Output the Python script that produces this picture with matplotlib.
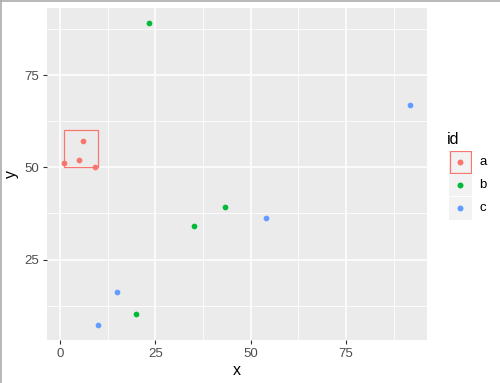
import matplotlib
matplotlib.use("Agg")
import matplotlib.pyplot as plt
from matplotlib.patches import Rectangle
from matplotlib.lines import Line2D

plt.rcParams["font.family"] = ["Liberation Sans", "DejaVu Sans"]

# ---- data ----
ids = ["a", "b", "c"]
colors = ["#F8766D", "#00BA38", "#619CFF"]
x_a = [1, 5, 6, 9.2]
y_a = [51.3, 52.1, 57.2, 50.2]
x_b = [23.2, 35, 43.2, 20]
y_b = [89, 34.2, 39.3, 10.2]
x_c = [10, 15, 54, 91.8]
y_c = [7.2, 16.2, 36.3, 67]
rect_x = [1, 10]
rect_y = [50, 60]
xticks = [0, 25, 50, 75]
yticks = [25, 50, 75]

W, H = 500, 383
fig = plt.figure(figsize=(W / 100, H / 100), dpi=100)
fig.patch.set_facecolor("white")

def px(l, t, r, b):
    return [l / W, 1 - b / H, (r - l) / W, (b - t) / H]

ax = fig.add_axes(px(46.8, 8.4, 427.2, 340.3))
ax.set_facecolor("#EBEBEB")
for s in ax.spines.values():
    s.set_visible(False)

xs = [x_a, x_b, x_c]
ys = [y_a, y_b, y_c]
for xv, yv, c in zip(xs, ys, colors):
    ax.scatter(xv, yv, s=17, color=c, linewidths=0, zorder=3)

ax.add_patch(Rectangle((rect_x[0], rect_y[0]), rect_x[1] - rect_x[0], rect_y[1] - rect_y[0],
                       fill=False, edgecolor=colors[0], linewidth=0.9, zorder=2))

allx = x_a + x_b + x_c
ally = y_a + y_b + y_c
dx = (max(allx) - min(allx)) * 0.05
dy = (max(ally) - min(ally)) * 0.05
ax.set_xlim(min(allx) - dx, max(allx) + dx)
ax.set_ylim(min(ally) - dy, max(ally) + dy)

ax.set_xticks(xticks)
ax.set_yticks(yticks)
ax.set_xticks([12.5, 37.5, 62.5, 87.5], minor=True)
ax.set_yticks([12.5, 37.5, 62.5, 87.5], minor=True)
ax.grid(True, which="major", color="white", linewidth=1.1)
ax.grid(True, which="minor", color="white", linewidth=0.55)
ax.set_axisbelow(True)
ax.tick_params(which="major", length=3, width=0.8, color="#333333",
               labelcolor="#4D4D4D", labelsize=9.5, pad=2.5)
ax.tick_params(which="minor", length=0)
ax.set_xlabel("x", fontsize=11.5, color="black", labelpad=2)
ax.set_ylabel("y", fontsize=11.5, color="black", labelpad=4)

# legend
fig.text(447 / W, 1 - 144 / H, "id", fontsize=11.5, color="black", ha="left", va="baseline")
key_top = 150.5
key_h = 23
for i, (lab, c) in enumerate(zip(ids, colors)):
    t = key_top + i * key_h
    kax = fig.add_axes(px(449, t, 471.7, t + key_h))
    kax.set_xlim(0, 1)
    kax.set_ylim(0, 1)
    kax.set_facecolor("#F2F2F2")
    kax.set_xticks([])
    kax.set_yticks([])
    for s in kax.spines.values():
        s.set_visible(False)
    if i == 0:
        kax.add_patch(Rectangle((0.04, 0.04), 0.92, 0.92, fill=False, edgecolor=c,
                                linewidth=0.9, transform=kax.transAxes))
    kax.add_line(Line2D([0.5], [0.5], marker="o", markersize=4.3, color=c,
                        markeredgewidth=0, linestyle="none"))
    fig.text(479 / W, 1 - (t + key_h / 2) / H, lab, fontsize=9.5, color="black",
             ha="left", va="center")

# window border (left and top only)
fig.add_artist(Line2D([0.5 / W, 0.5 / W], [0, 1], transform=fig.transFigure,
                      color="#ABABAB", linewidth=1.2))
fig.add_artist(Line2D([0, 1], [1 - 0.5 / H, 1 - 0.5 / H], transform=fig.transFigure,
                      color="#ABABAB", linewidth=1.2))

fig.savefig("out.png", dpi=100)
